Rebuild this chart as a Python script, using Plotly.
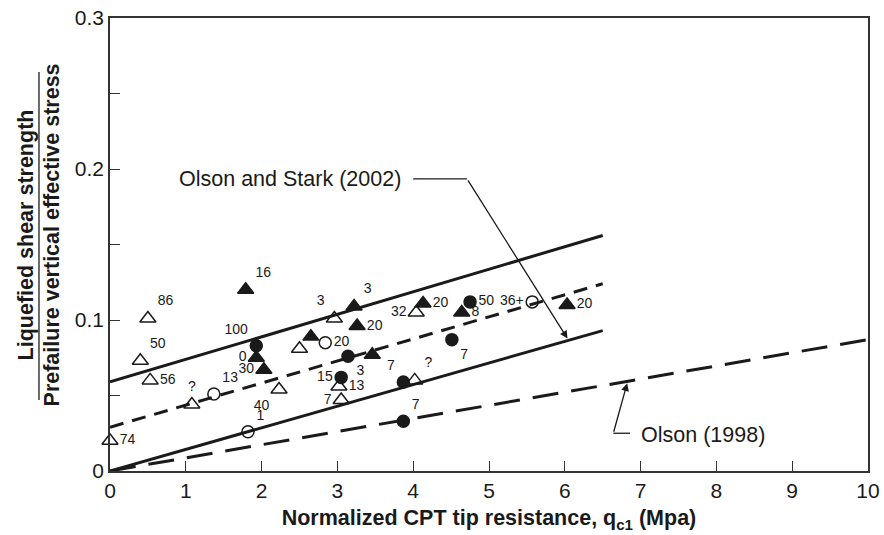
import plotly.graph_objects as go

# ---- data -----------------------------------------------------------------
# Open triangles
ot_x = [0.00, 0.50, 0.40, 0.53, 1.08, 2.23, 2.50, 2.96, 4.04, 3.02, 3.05, 4.02]
ot_y = [0.020, 0.101, 0.073, 0.060, 0.044, 0.054, 0.081, 0.101, 0.105, 0.056, 0.047, 0.060]
ot_lbl = ["74", "86", "50", "56", "?", "40", "", "3", "32", "13", "7", "?"]

# Filled triangles
ft_x = [1.79, 1.93, 2.03, 2.65, 3.22, 3.26, 3.46, 4.13, 4.64, 6.03]
ft_y = [0.120, 0.075, 0.067, 0.089, 0.109, 0.096, 0.077, 0.111, 0.105, 0.110]
ft_lbl = ["16", "0", "30", "", "3", "20", "", "20", "8", "20"]

# Filled circles
fc_x = [1.93, 3.14, 3.05, 3.87, 3.87, 4.51, 4.75]
fc_y = [0.083, 0.076, 0.062, 0.059, 0.033, 0.087, 0.112]
fc_lbl = ["100", "3", "15", "7", "7", "7", "50"]

# Open circles
oc_x = [1.37, 1.82, 2.84, 5.57]
oc_y = [0.051, 0.026, 0.085, 0.112]
oc_lbl = ["13", "1", "20", "36+"]

# Trend lines (end points in qc1, ratio)
upper_x = [0.0, 6.5]
upper_y = [0.059, 0.156]
mid_x = [0.0, 6.5]
mid_y = [0.029, 0.124]
lower_x = [0.0, 6.5]
lower_y = [0.0, 0.093]
olson98_x = [0.0, 10.0]
olson98_y = [0.0, 0.087]

x_ticks = [0, 1, 2, 3, 4, 5, 6, 7, 8, 9, 10]
y_ticks = [0, 0.05, 0.1, 0.15, 0.2, 0.25, 0.3]
y_ticktext = ["0", "", "0.1", "", "0.2", "", "0.3"]

# ---- label placement (style only) ---------------------------------------
ot_pos = ["middle right", "top right", "top right", "middle right", "top center",
          "bottom left", "middle right", "top left", "middle left", "middle right",
          "middle left", "top right"]
ft_pos = ["top right", "middle left", "middle left", "middle right", "top right",
          "middle right", "middle right", "middle right", "middle right", "middle right"]
fc_pos = ["top left", "bottom right", "middle left", "top left", "top right",
          "bottom right", "middle right"]
oc_pos = ["top right", "top right", "middle right", "middle left"]

FONT = "Liberation Sans, Arial, Helvetica, sans-serif"
NARROW = "Liberation Sans Narrow, Liberation Sans, Arial, sans-serif"
INK = "#1a1a1a"

fig = go.Figure()


def line(x, y, dash):
    fig.add_trace(go.Scatter(x=x, y=y, mode="lines", hoverinfo="skip",
                             line=dict(color=INK, width=3, dash=dash)))


line(upper_x, upper_y, "solid")
line(mid_x, mid_y, "14px,9px")
line(lower_x, lower_y, "solid")
line(olson98_x, olson98_y, "26px,13px")


def points(x, y, lbl, pos, symbol, size):
    fig.add_trace(go.Scatter(
        x=x, y=y, mode="markers+text", text=lbl, textposition=pos,
        textfont=dict(family=FONT, size=14, color=INK),
        marker=dict(symbol=symbol, size=size, color=INK,
                    line=dict(color=INK, width=1.5)),
        cliponaxis=False))


points(ot_x, ot_y, ot_lbl, ot_pos, "triangle-up-open", 14)
points(ft_x, ft_y, ft_lbl, ft_pos, "triangle-up", 14)
points(fc_x, fc_y, fc_lbl, fc_pos, "circle", 12)
points(oc_x, oc_y, oc_lbl, oc_pos, "circle-open", 12)


def on_line(xs, ys, xv):
    return ys[0] + (ys[1] - ys[0]) * (xv - xs[0]) / (xs[1] - xs[0])


# Olson and Stark (2002) callout: text, leader, arrow to the lower bound
os_tip_x = 6.05
os_knee = (4.71, 0.1935)
fig.add_annotation(x=0.88, y=0.1935, text="Olson and Stark (2002)", showarrow=False,
                   xanchor="left", yanchor="middle",
                   font=dict(family=FONT, size=21.5, color=INK))
fig.add_shape(type="line", x0=4.0, x1=os_knee[0], y0=os_knee[1], y1=os_knee[1],
              line=dict(color=INK, width=1.3))
fig.add_annotation(x=os_tip_x, y=on_line(lower_x, lower_y, os_tip_x),
                   ax=os_knee[0], ay=os_knee[1], axref="x", ayref="y",
                   text="", showarrow=True, arrowhead=2, arrowsize=1.2,
                   arrowwidth=1.3, arrowcolor=INK, standoff=2)

# Olson (1998) callout
o98_tip_x = 6.83
o98_knee = (6.64, 0.025)
fig.add_annotation(x=6.98, y=0.024, text="Olson (1998)", showarrow=False,
                   xanchor="left", yanchor="middle",
                   font=dict(family=FONT, size=21.5, color=INK))
fig.add_shape(type="line", x0=o98_knee[0], x1=6.86, y0=o98_knee[1], y1=o98_knee[1],
              line=dict(color=INK, width=1.3))
fig.add_annotation(x=o98_tip_x, y=on_line(olson98_x, olson98_y, o98_tip_x),
                   ax=o98_knee[0], ay=o98_knee[1], axref="x", ayref="y",
                   text="", showarrow=True, arrowhead=2, arrowsize=1.2,
                   arrowwidth=1.3, arrowcolor=INK, standoff=2)

# Y-axis title written as a ratio
fig.add_annotation(xref="paper", yref="paper", x=-0.1108, y=0.52,
                   xanchor="center", yanchor="middle",
                   text="<b>Liquefied shear strength</b>", textangle=-90,
                   showarrow=False, font=dict(family=NARROW, size=21.5, color=INK))
fig.add_annotation(xref="paper", yref="paper", x=-0.0765, y=0.52,
                   xanchor="center", yanchor="middle",
                   text="<b>Prefailure vertical effective stress</b>", textangle=-90,
                   showarrow=False, font=dict(family=NARROW, size=21.5, color=INK))
fig.add_shape(type="line", xref="paper", yref="paper", x0=-0.0937, x1=-0.0937,
              y0=0.157, y1=0.881, line=dict(color=INK, width=1.3))

axis_common = dict(showline=True, linecolor="#333333", linewidth=1.5, mirror=True,
                   ticks="inside", ticklen=10, tickwidth=1.3, tickcolor="#333333",
                   showgrid=False, zeroline=False, automargin=False,
                   tickfont=dict(family=FONT, size=21, color=INK))

fig.update_xaxes(range=[0, 10], tickvals=x_ticks, **axis_common,
                 title=dict(text="<b>Normalized CPT tip resistance, q<sub>c1</sub> (Mpa)</b>",
                            font=dict(family=NARROW, size=21.5, color=INK), standoff=9))
fig.update_yaxes(range=[0, 0.3], tickvals=y_ticks, ticktext=y_ticktext, **axis_common)

fig.update_layout(width=884, height=535, showlegend=False,
                  margin=dict(l=110, r=16, t=18, b=64),
                  plot_bgcolor="white", paper_bgcolor="white")

fig.write_html("out.html")
